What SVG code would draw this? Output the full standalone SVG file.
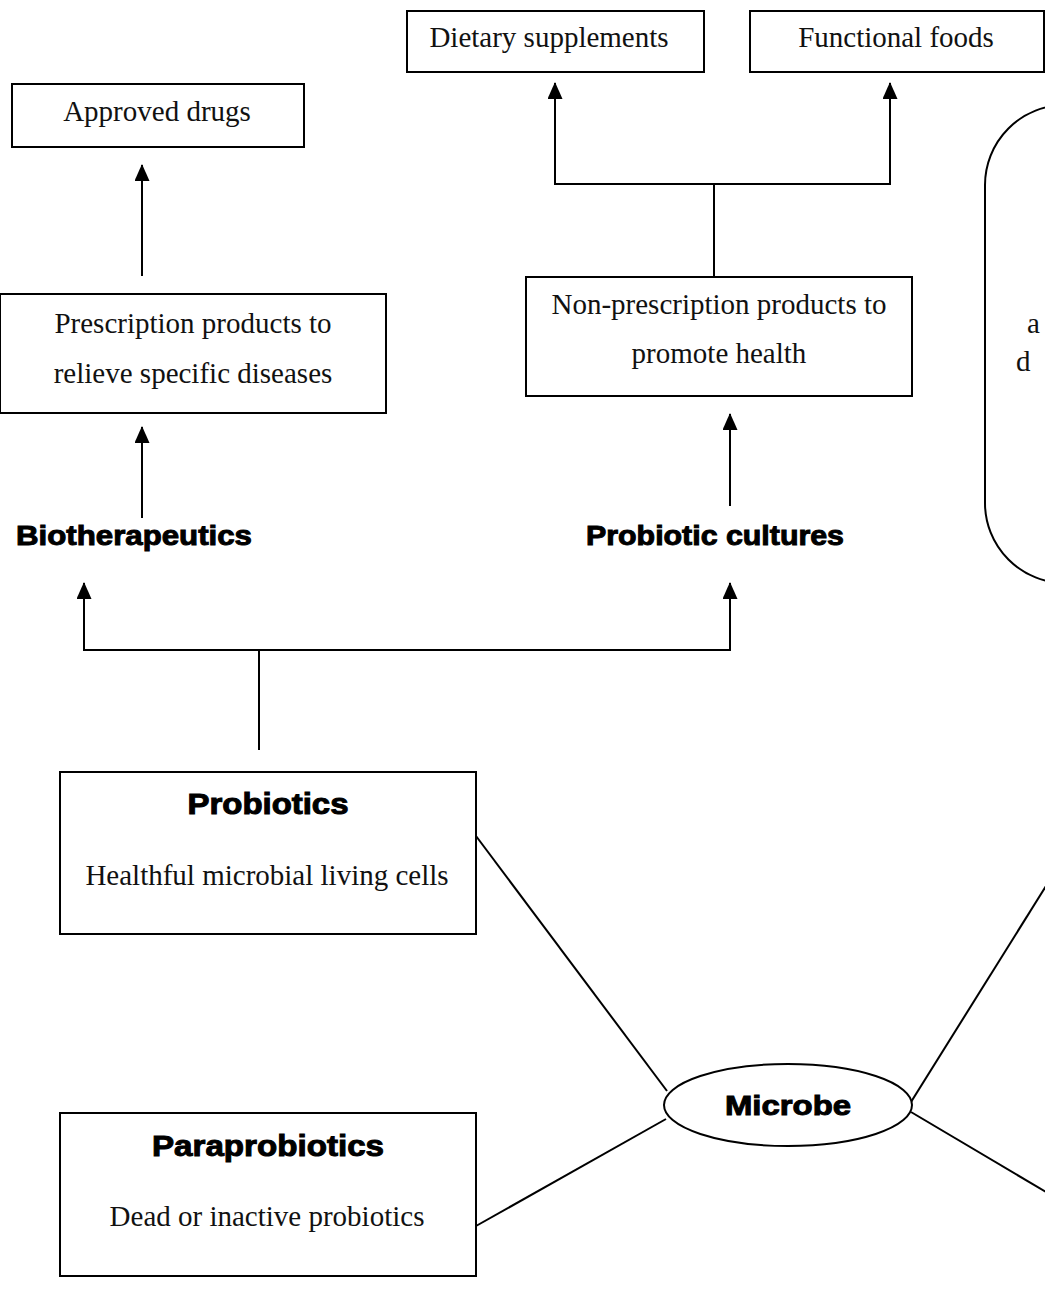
<svg xmlns="http://www.w3.org/2000/svg" width="1045" height="1289" viewBox="0 0 1045 1289">
  <style>
    .box { fill: #ffffff; stroke: #000000; stroke-width: 2; }
    .wire { fill: none; stroke: #000000; stroke-width: 2; }
    .serif { font-family: "Liberation Serif", "Times New Roman", serif; font-size: 29px; fill: #111111; text-anchor: middle; }
    .heavy { font-family: "Liberation Sans", Arial, sans-serif; font-weight: bold; fill: #000000; stroke: #000000; stroke-width: 1; text-anchor: middle; }
  </style>
  <defs>
    <!-- solid triangular arrowhead used on every upward connector -->
    <marker id="arrow" viewBox="0 0 17 15" refX="16" refY="7.5" markerWidth="17" markerHeight="15" markerUnits="userSpaceOnUse" orient="auto">
      <path d="M0,0 L17,7.5 L0,15 Z" fill="#000000"/>
    </marker>
  </defs>
  <rect width="1045" height="1289" fill="#ffffff"/>

  <g id="connectors">
    <!-- prescription branch -->
    <line class="wire" x1="142" y1="276" x2="142" y2="165" marker-end="url(#arrow)"/>
    <line class="wire" x1="142" y1="518" x2="142" y2="427" marker-end="url(#arrow)"/>
    <!-- non-prescription branch -->
    <line class="wire" x1="714" y1="276" x2="714" y2="184"/>
    <path class="wire" d="M555,184 L890,184"/>
    <line class="wire" x1="555" y1="185" x2="555" y2="83" marker-end="url(#arrow)"/>
    <line class="wire" x1="890" y1="185" x2="890" y2="83" marker-end="url(#arrow)"/>
    <line class="wire" x1="730" y1="506" x2="730" y2="414" marker-end="url(#arrow)"/>
    <!-- probiotics split -->
    <line class="wire" x1="259" y1="750" x2="259" y2="650"/>
    <path class="wire" d="M84,650 L730,650"/>
    <line class="wire" x1="84" y1="651" x2="84" y2="583" marker-end="url(#arrow)"/>
    <line class="wire" x1="730" y1="651" x2="730" y2="583" marker-end="url(#arrow)"/>
    <!-- microbe spokes -->
    <line class="wire" x1="476" y1="836" x2="667" y2="1091"/>
    <line class="wire" x1="476" y1="1226" x2="666" y2="1119"/>
    <line class="wire" x1="911" y1="1102" x2="1046" y2="886"/>
    <line class="wire" x1="911" y1="1112" x2="1046" y2="1192"/>
  </g>

  <g id="approved-drugs">
    <rect class="box" x="12" y="84" width="292" height="63"/>
    <text class="serif" x="157" y="121">Approved drugs</text>
  </g>

  <g id="prescription-products">
    <rect class="box" x="0" y="294" width="386" height="119"/>
    <text class="serif" x="193" y="333">Prescription products to</text>
    <text class="serif" x="193" y="383">relieve specific diseases</text>
  </g>

  <g id="dietary-supplements">
    <rect class="box" x="407" y="11" width="297" height="61"/>
    <text class="serif" x="549" y="47">Dietary supplements</text>
  </g>

  <g id="functional-foods">
    <rect class="box" x="750" y="11" width="294" height="61"/>
    <text class="serif" x="896" y="47">Functional foods</text>
  </g>

  <g id="non-prescription-products">
    <rect class="box" x="526" y="277" width="386" height="119"/>
    <text class="serif" x="719" y="314">Non-prescription products to</text>
    <text class="serif" x="719" y="363">promote health</text>
  </g>

  <g id="side-note">
    <rect class="box" x="985" y="105" width="300" height="478" rx="80" ry="80"/>
    <text class="serif" x="1027" y="333" style="text-anchor:start">a</text>
    <text class="serif" x="1016" y="371" style="text-anchor:start">d</text>
  </g>

  <g id="biotherapeutics">
    <text class="heavy" x="134" y="545" font-size="28" textLength="236" lengthAdjust="spacingAndGlyphs">Biotherapeutics</text>
  </g>

  <g id="probiotic-cultures">
    <text class="heavy" x="715" y="545" font-size="28" textLength="258" lengthAdjust="spacingAndGlyphs">Probiotic cultures</text>
  </g>

  <g id="probiotics">
    <rect class="box" x="60" y="772" width="416" height="162"/>
    <text class="heavy" x="268" y="814" font-size="29" textLength="161" lengthAdjust="spacingAndGlyphs">Probiotics</text>
    <text class="serif" x="267" y="885">Healthful microbial living cells</text>
  </g>

  <g id="paraprobiotics">
    <rect class="box" x="60" y="1113" width="416" height="163"/>
    <text class="heavy" x="268" y="1156" font-size="29" textLength="232" lengthAdjust="spacingAndGlyphs">Paraprobiotics</text>
    <text class="serif" x="267" y="1226">Dead or inactive probiotics</text>
  </g>

  <g id="microbe">
    <ellipse class="box" cx="788" cy="1105" rx="124" ry="41"/>
    <text class="heavy" x="788" y="1115" font-size="28" textLength="126" lengthAdjust="spacingAndGlyphs">Microbe</text>
  </g>
</svg>
